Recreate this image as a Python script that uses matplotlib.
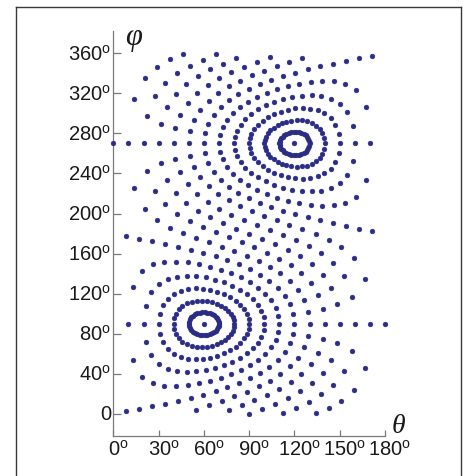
import matplotlib
matplotlib.use("Agg")
import matplotlib.pyplot as plt
from matplotlib.lines import Line2D
from matplotlib.transforms import ScaledTranslation

plt.rcParams["font.family"] = ["Liberation Sans", "DejaVu Sans"]
plt.rcParams["mathtext.fontset"] = "custom"
plt.rcParams["mathtext.rm"] = "Liberation Sans"
plt.rcParams["mathtext.it"] = "Liberation Sans:italic"

# dots of each orbit, named by its angular distance from the centre at (60, 90)
centre_theta = [60.0, 120.0]
centre_phi = [90.0, 270.0]

theta_10 = [70.0, 69.9, 69.4, 68.8, 67.8, 66.7, 65.3, 63.8, 62.2, 60.5, 58.8, 57.1, 55.4, 53.9, 52.6, 51.5, 50.7, 50.2, 50.0, 50.2, 50.7, 51.5, 52.6, 53.9, 55.4, 57.1, 58.8, 60.5, 62.2, 63.8, 65.3, 66.7, 67.8, 68.8, 69.4, 69.9]
phi_10 = [90.0, 88.2, 86.4, 84.7, 83.1, 81.7, 80.5, 79.5, 78.9, 78.5, 78.5, 78.8, 79.5, 80.5, 81.9, 83.6, 85.6, 87.8, 90.0, 92.2, 94.4, 96.4, 98.1, 99.5, 100.5, 101.2, 101.5, 101.5, 101.1, 100.5, 99.5, 98.3, 96.9, 95.3, 93.6, 91.8]

theta_20 = [80.0, 79.7, 79.0, 77.7, 75.9, 73.8, 71.2, 68.4, 65.3, 62.0, 58.6, 55.2, 51.8, 48.7, 45.8, 43.4, 41.6, 40.4, 40.0, 40.4, 41.6, 43.4, 45.8, 48.7, 51.8, 55.2, 58.6, 62.0, 65.3, 68.4, 71.2, 73.8, 75.9, 77.7, 79.0, 79.7]
phi_20 = [90.0, 86.5, 83.2, 79.9, 76.9, 74.2, 71.8, 69.8, 68.2, 67.2, 66.8, 67.0, 67.9, 69.6, 72.2, 75.6, 79.8, 84.7, 90.0, 95.3, 100.2, 104.4, 107.8, 110.4, 112.1, 113.0, 113.2, 112.8, 111.8, 110.2, 108.2, 105.8, 103.1, 100.1, 96.8, 93.5]

theta_30 = [90.0, 89.6, 88.5, 86.7, 84.2, 81.1, 77.5, 73.4, 69.0, 64.3, 59.5, 54.5, 49.5, 44.7, 40.1, 36.1, 32.9, 30.8, 30.0, 30.8, 32.9, 36.1, 40.1, 44.7, 49.5, 54.5, 59.5, 64.3, 69.0, 73.4, 77.5, 81.1, 84.2, 86.7, 88.5, 89.6]
phi_30 = [90.0, 85.0, 80.2, 75.5, 71.2, 67.2, 63.7, 60.7, 58.2, 56.3, 55.1, 54.7, 55.3, 57.0, 60.1, 64.9, 71.6, 80.2, 90.0, 99.8, 108.4, 115.1, 119.9, 123.0, 124.7, 125.3, 124.9, 123.7, 121.8, 119.3, 116.3, 112.8, 108.8, 104.5, 99.8, 95.0]

theta_40 = [100.0, 99.5, 98.1, 95.7, 92.5, 88.6, 84.0, 78.9, 73.4, 67.5, 61.3, 55.0, 48.6, 42.2, 36.0, 30.1, 25.0, 21.4, 20.0, 21.4, 25.0, 30.1, 36.0, 42.2, 48.6, 55.0, 61.3, 67.5, 73.4, 78.9, 84.0, 88.6, 92.5, 95.7, 98.1, 99.5]
phi_40 = [90.0, 83.5, 77.2, 71.2, 65.6, 60.5, 56.0, 52.0, 48.7, 45.9, 43.8, 42.5, 42.1, 42.9, 45.3, 50.2, 58.7, 72.2, 90.0, 107.8, 121.3, 129.8, 134.7, 137.1, 137.9, 137.5, 136.2, 134.1, 131.3, 128.0, 124.0, 119.5, 114.4, 108.8, 102.8, 96.5]

theta_50 = [110.0, 109.4, 107.6, 104.7, 100.8, 96.0, 90.6, 84.6, 78.1, 71.3, 64.1, 56.8, 49.2, 41.6, 33.9, 26.4, 19.1, 12.9, 10.0, 12.9, 19.1, 26.4, 33.9, 41.6, 49.2, 56.8, 64.1, 71.3, 78.1, 84.6, 90.6, 96.0, 100.8, 104.7, 107.6, 109.4]
phi_50 = [90.0, 81.9, 74.0, 66.7, 59.9, 53.8, 48.4, 43.7, 39.6, 36.0, 33.0, 30.6, 28.8, 27.9, 28.1, 30.4, 36.9, 53.5, 90.0, 126.5, 143.1, 149.6, 151.9, 152.1, 151.2, 149.4, 147.0, 144.0, 140.4, 136.3, 131.6, 126.2, 120.1, 113.3, 106.0, 98.1]

theta_60 = [120.0, 119.2, 117.1, 113.5, 108.9, 103.4, 97.2, 90.4, 83.1, 75.5, 67.7, 59.6, 51.3, 42.9, 34.5, 25.9, 17.3, 8.7, 0.0, 8.7, 17.3, 25.9, 34.5, 42.9, 51.3, 59.6, 67.7, 75.5, 83.1, 90.4, 97.2, 103.4, 108.9, 113.5, 117.1, 119.2]
phi_60 = [90.0, 80.1, 70.6, 61.8, 53.9, 47.0, 40.9, 35.5, 30.8, 26.6, 22.8, 19.3, 16.1, 13.1, 10.3, 7.6, 5.0, 2.5, 270.0, 177.5, 175.0, 172.4, 169.7, 166.9, 163.9, 160.7, 157.2, 153.4, 149.2, 144.5, 139.1, 133.0, 126.1, 118.2, 109.4, 99.9]

theta_70 = [130.0, 129.1, 126.4, 122.3, 116.9, 110.6, 103.6, 96.2, 88.3, 80.2, 71.8, 63.3, 54.7, 46.0, 37.4, 28.9, 20.7, 13.5, 10.0, 13.5, 20.7, 28.9, 37.4, 46.0, 54.7, 63.3, 71.8, 80.2, 88.3, 96.2, 103.6, 110.6, 116.9, 122.3, 126.4, 129.1]
phi_70 = [90.0, 77.9, 66.5, 56.2, 47.4, 39.7, 33.1, 27.4, 22.2, 17.5, 13.1, 8.7, 4.3, 359.5, 354.0, 346.7, 335.7, 314.4, 270.0, 225.6, 204.3, 193.3, 186.0, 180.5, 175.7, 171.3, 166.9, 162.5, 157.8, 152.6, 146.9, 140.3, 132.6, 123.8, 113.5, 102.1]

theta_80 = [140.0, 138.9, 135.6, 130.7, 124.5, 117.5, 109.9, 101.8, 93.5, 85.0, 76.4, 67.8, 59.1, 50.6, 42.3, 34.4, 27.3, 22.1, 20.0, 22.1, 27.3, 34.4, 42.3, 50.6, 59.1, 67.8, 76.4, 85.0, 93.5, 101.8, 109.9, 117.5, 124.5, 130.7, 135.6, 138.9]
phi_80 = [90.0, 74.9, 61.2, 49.5, 39.8, 31.7, 24.9, 19.0, 13.7, 8.7, 3.8, 358.9, 353.6, 347.6, 340.3, 330.7, 317.2, 297.1, 270.0, 242.9, 222.8, 209.3, 199.7, 192.4, 186.4, 181.1, 176.2, 171.3, 166.3, 161.0, 155.1, 148.3, 140.2, 130.5, 118.8, 105.1]

theta_90 = [150.0, 148.5, 144.5, 138.6, 131.6, 123.8, 115.7, 107.2, 98.6, 90.0, 81.4, 72.8, 64.3, 56.2, 48.4, 41.4, 35.5, 31.5, 30.0, 31.5, 35.5, 41.4, 48.4, 56.2, 64.3, 72.8, 81.4, 90.0, 98.6, 107.2, 115.7, 123.8, 131.6, 138.6, 144.5, 148.5]
phi_90 = [90.0, 70.6, 53.9, 40.9, 30.8, 22.8, 16.1, 10.3, 5.0, 0.0, 355.0, 349.7, 343.9, 337.2, 329.2, 319.1, 306.1, 289.4, 270.0, 250.6, 233.9, 220.9, 210.8, 202.8, 196.1, 190.3, 185.0, 180.0, 175.0, 169.7, 163.9, 157.2, 149.2, 139.1, 126.1, 109.4]

theta_100 = [40.0, 41.1, 44.4, 49.3, 55.5, 62.5, 70.1, 78.2, 86.5, 95.0, 103.6, 112.2, 120.9, 129.4, 137.7, 145.6, 152.7, 157.9, 160.0, 157.9, 152.7, 145.6, 137.7, 129.4, 120.9, 112.2, 103.6, 95.0, 86.5, 78.2, 70.1, 62.5, 55.5, 49.3, 44.4, 41.1]
phi_100 = [270.0, 254.9, 241.2, 229.5, 219.8, 211.7, 204.9, 199.0, 193.7, 188.7, 183.8, 178.9, 173.6, 167.6, 160.3, 150.7, 137.2, 117.1, 90.0, 62.9, 42.8, 29.3, 19.7, 12.4, 6.4, 1.1, 356.2, 351.3, 346.3, 341.0, 335.1, 328.3, 320.2, 310.5, 298.8, 285.1]

theta_110 = [50.0, 50.9, 53.6, 57.7, 63.1, 69.4, 76.4, 83.8, 91.7, 99.8, 108.2, 116.7, 125.3, 134.0, 142.6, 151.1, 159.3, 166.5, 170.0, 166.5, 159.3, 151.1, 142.6, 134.0, 125.3, 116.7, 108.2, 99.8, 91.7, 83.8, 76.4, 69.4, 63.1, 57.7, 53.6, 50.9]
phi_110 = [270.0, 257.9, 246.5, 236.2, 227.4, 219.7, 213.1, 207.4, 202.2, 197.5, 193.1, 188.7, 184.3, 179.5, 174.0, 166.7, 155.7, 134.4, 90.0, 45.6, 24.3, 13.3, 6.0, 0.5, 355.7, 351.3, 346.9, 342.5, 337.8, 332.6, 326.9, 320.3, 312.6, 303.8, 293.5, 282.1]

theta_120 = [60.0, 60.8, 62.9, 66.5, 71.1, 76.6, 82.8, 89.6, 96.9, 104.5, 112.3, 120.4, 128.7, 137.1, 145.5, 154.1, 162.7, 171.3, 180.0, 171.3, 162.7, 154.1, 145.5, 137.1, 128.7, 120.4, 112.3, 104.5, 96.9, 89.6, 82.8, 76.6, 71.1, 66.5, 62.9, 60.8]
phi_120 = [270.0, 260.1, 250.6, 241.8, 233.9, 227.0, 220.9, 215.5, 210.8, 206.6, 202.8, 199.3, 196.1, 193.1, 190.3, 187.6, 185.0, 182.5, 90.0, 357.5, 355.0, 352.4, 349.7, 346.9, 343.9, 340.7, 337.2, 333.4, 329.2, 324.5, 319.1, 313.0, 306.1, 298.2, 289.4, 279.9]

theta_130 = [70.0, 70.6, 72.4, 75.3, 79.2, 84.0, 89.4, 95.4, 101.9, 108.7, 115.9, 123.2, 130.8, 138.4, 146.1, 153.6, 160.9, 167.1, 170.0, 167.1, 160.9, 153.6, 146.1, 138.4, 130.8, 123.2, 115.9, 108.7, 101.9, 95.4, 89.4, 84.0, 79.2, 75.3, 72.4, 70.6]
phi_130 = [270.0, 261.9, 254.0, 246.7, 239.9, 233.8, 228.4, 223.7, 219.6, 216.0, 213.0, 210.6, 208.8, 207.9, 208.1, 210.4, 216.9, 233.5, 270.0, 306.5, 323.1, 329.6, 331.9, 332.1, 331.2, 329.4, 327.0, 324.0, 320.4, 316.3, 311.6, 306.2, 300.1, 293.3, 286.0, 278.1]

theta_140 = [80.0, 80.5, 81.9, 84.3, 87.5, 91.4, 96.0, 101.1, 106.6, 112.5, 118.7, 125.0, 131.4, 137.8, 144.0, 149.9, 155.0, 158.6, 160.0, 158.6, 155.0, 149.9, 144.0, 137.8, 131.4, 125.0, 118.7, 112.5, 106.6, 101.1, 96.0, 91.4, 87.5, 84.3, 81.9, 80.5]
phi_140 = [270.0, 263.5, 257.2, 251.2, 245.6, 240.5, 236.0, 232.0, 228.7, 225.9, 223.8, 222.5, 222.1, 222.9, 225.3, 230.2, 238.7, 252.2, 270.0, 287.8, 301.3, 309.8, 314.7, 317.1, 317.9, 317.5, 316.2, 314.1, 311.3, 308.0, 304.0, 299.5, 294.4, 288.8, 282.8, 276.5]

theta_150 = [90.0, 90.4, 91.5, 93.3, 95.8, 98.9, 102.5, 106.6, 111.0, 115.7, 120.5, 125.5, 130.5, 135.3, 139.9, 143.9, 147.1, 149.2, 150.0, 149.2, 147.1, 143.9, 139.9, 135.3, 130.5, 125.5, 120.5, 115.7, 111.0, 106.6, 102.5, 98.9, 95.8, 93.3, 91.5, 90.4]
phi_150 = [270.0, 265.0, 260.2, 255.5, 251.2, 247.2, 243.7, 240.7, 238.2, 236.3, 235.1, 234.7, 235.3, 237.0, 240.1, 244.9, 251.6, 260.2, 270.0, 279.8, 288.4, 295.1, 299.9, 303.0, 304.7, 305.3, 304.9, 303.7, 301.8, 299.3, 296.3, 292.8, 288.8, 284.5, 279.8, 275.0]

theta_160 = [100.0, 100.3, 101.0, 102.3, 104.1, 106.2, 108.8, 111.6, 114.7, 118.0, 121.4, 124.8, 128.2, 131.3, 134.2, 136.6, 138.4, 139.6, 140.0, 139.6, 138.4, 136.6, 134.2, 131.3, 128.2, 124.8, 121.4, 118.0, 114.7, 111.6, 108.8, 106.2, 104.1, 102.3, 101.0, 100.3]
phi_160 = [270.0, 266.5, 263.2, 259.9, 256.9, 254.2, 251.8, 249.8, 248.2, 247.2, 246.8, 247.0, 247.9, 249.6, 252.2, 255.6, 259.8, 264.7, 270.0, 275.3, 280.2, 284.4, 287.8, 290.4, 292.1, 293.0, 293.2, 292.8, 291.8, 290.2, 288.2, 285.8, 283.1, 280.1, 276.8, 273.5]

theta_170 = [110.0, 110.1, 110.6, 111.2, 112.2, 113.3, 114.7, 116.2, 117.8, 119.5, 121.2, 122.9, 124.6, 126.1, 127.4, 128.5, 129.3, 129.8, 130.0, 129.8, 129.3, 128.5, 127.4, 126.1, 124.6, 122.9, 121.2, 119.5, 117.8, 116.2, 114.7, 113.3, 112.2, 111.2, 110.6, 110.1]
phi_170 = [270.0, 268.2, 266.4, 264.7, 263.1, 261.7, 260.5, 259.5, 258.9, 258.5, 258.5, 258.8, 259.5, 260.5, 261.9, 263.6, 265.6, 267.8, 270.0, 272.2, 274.4, 276.4, 278.1, 279.5, 280.5, 281.2, 281.5, 281.5, 281.1, 280.5, 279.5, 278.3, 276.9, 275.3, 273.6, 271.8]

x_ticks = [0, 30, 60, 90, 120, 150, 180]
y_ticks = [0, 40, 80, 120, 160, 200, 240, 280, 320, 360]

orbits = [
    (centre_theta, centre_phi),
    (theta_10, phi_10), (theta_20, phi_20), (theta_30, phi_30),
    (theta_40, phi_40), (theta_50, phi_50), (theta_60, phi_60),
    (theta_70, phi_70), (theta_80, phi_80), (theta_90, phi_90),
    (theta_100, phi_100), (theta_110, phi_110), (theta_120, phi_120),
    (theta_130, phi_130), (theta_140, phi_140), (theta_150, phi_150),
    (theta_160, phi_160), (theta_170, phi_170),
]

dot_color = "#2b2c85"
axis_color = "#7a7a7a"
text_color = "#1a1a1a"

fig = plt.figure(figsize=(4.65, 4.77), dpi=100)
ax = fig.add_axes([0.2437, 0.0845, 0.5843, 0.8478])

for th, ph in orbits:
    ax.plot(th, ph, "o", ms=3.5, mfc=dot_color, mec=dot_color, mew=0.3,
            ls="none", clip_on=False, zorder=3)

ax.set_xlim(0, 180)
ax.set_ylim(-21.7, 381.9)

for side in ["top", "right"]:
    ax.spines[side].set_visible(False)
for side in ["left", "bottom"]:
    ax.spines[side].set_color(axis_color)
    ax.spines[side].set_linewidth(0.9)

ax.set_xticks(x_ticks)
ax.set_xticklabels([r"$\mathrm{%d^{o}}$" % v for v in x_ticks])
ax.set_yticks(y_ticks)
ax.set_yticklabels(["0"] + [r"$\mathrm{%d^{o}}$" % v for v in y_ticks[1:]])

ax.tick_params(axis="x", direction="in", length=4.2, width=0.9, color=axis_color,
               pad=2, labelsize=14.5, labelcolor=text_color)
ax.tick_params(axis="y", direction="in", length=5.8, width=0.9, color=axis_color,
               pad=1.5, labelsize=14.5, labelcolor=text_color)
for lab in ax.get_yticklabels():
    lab.set_verticalalignment("center")
shift = ScaledTranslation(3.5 / 72, 0, fig.dpi_scale_trans)
for lab in ax.get_xticklabels():
    lab.set_transform(lab.get_transform() + shift)

# axis symbols
fig.text(134 / 465, 1 - 37 / 477, "\u03c6", family="Liberation Serif", style="italic",
         fontsize=22, ha="center", va="center", color=text_color)
fig.text(398 / 465, 1 - 427 / 477, "\u03b8", family="Liberation Serif", style="italic",
         fontsize=20, ha="center", va="center", color=text_color)

# outer frame of the picture
frame = dict(color="#3a3a3a", lw=1.0, transform=fig.transFigure)
fig.add_artist(Line2D([16 / 465, 16 / 465], [0, 1 - 7.5 / 477], **frame))
fig.add_artist(Line2D([461 / 465, 461 / 465], [0, 1 - 7.5 / 477], **frame))
fig.add_artist(Line2D([16 / 465, 461 / 465], [1 - 7.5 / 477, 1 - 7.5 / 477], **frame))

fig.savefig("out.png", dpi=100)
